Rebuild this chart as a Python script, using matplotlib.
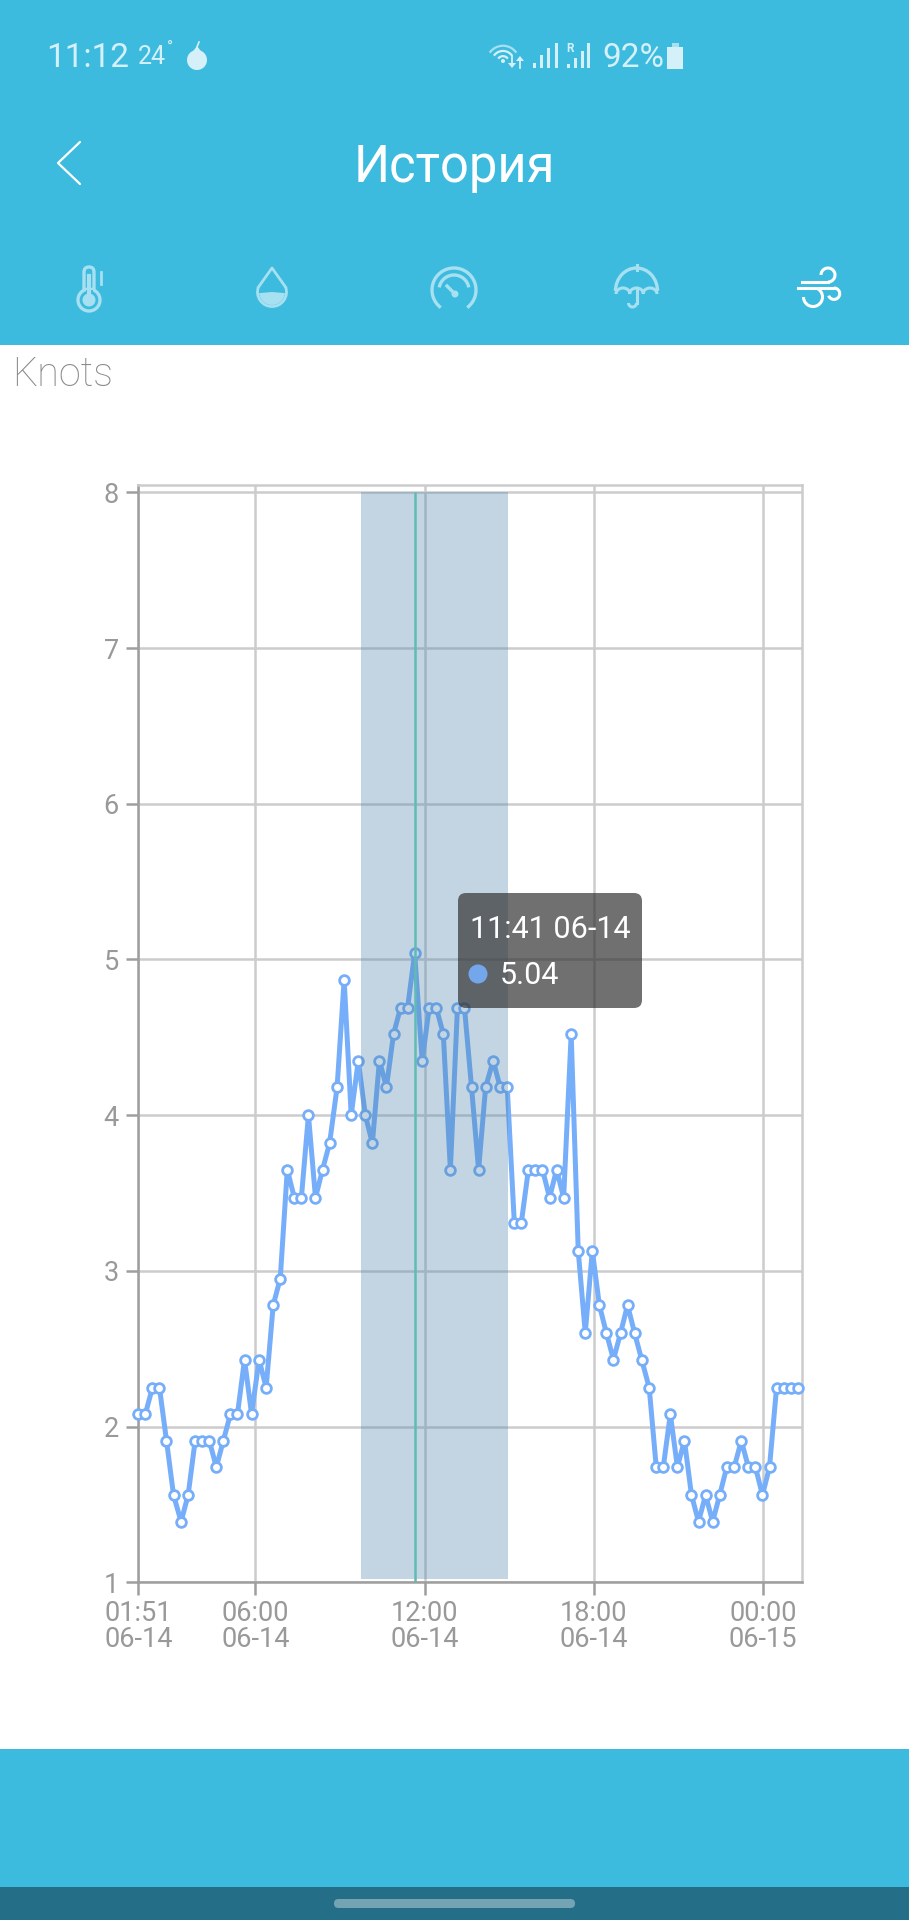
import matplotlib
matplotlib.use('Agg')
import matplotlib.pyplot as plt
from matplotlib.patches import Rectangle, FancyBboxPatch, Circle, Wedge, Polygon, Arc

W, H = 909, 1920

# sample times in minutes after midnight on 06-14
times = [111, 126, 141, 156, 171, 186, 202, 217, 232, 247, 262, 277, 292, 307, 322, 337,
         352, 368, 383, 398, 413, 428, 443, 458, 473, 488, 503, 518, 534, 549, 564, 579,
         594, 609, 624, 639, 654, 669, 684, 699, 715, 730, 745, 760, 775, 790, 805, 820,
         835, 850, 866, 881, 896, 911, 926, 941, 956, 971, 986, 1001, 1016, 1032, 1047, 1062,
         1077, 1092, 1107, 1122, 1137, 1152, 1167, 1182, 1198, 1213, 1228, 1243, 1258, 1273,
         1288, 1303, 1318, 1333, 1348, 1363, 1379, 1394, 1409, 1424, 1439, 1454, 1469, 1484,
         1499, 1514]
knots = [2.08, 2.08, 2.25, 2.25, 1.91, 1.56, 1.39, 1.56, 1.91, 1.91, 1.91, 1.74, 1.91, 2.08, 2.08, 2.43,
         2.08, 2.43, 2.25, 2.78, 2.95, 3.65, 3.47, 3.47, 4.00, 3.47, 3.65, 3.82, 4.18, 4.87, 4.00, 4.35,
         4.00, 3.82, 4.35, 4.18, 4.52, 4.69, 4.69, 5.04, 4.35, 4.69, 4.69, 4.52, 3.65, 4.69, 4.69, 4.18,
         3.65, 4.18, 4.35, 4.18, 4.18, 3.31, 3.31, 3.65, 3.65, 3.65, 3.47, 3.65, 3.47, 4.52, 3.13, 2.60,
         3.13, 2.78, 2.60, 2.43, 2.60, 2.78, 2.60, 2.43, 2.25, 1.74, 1.74, 2.08, 1.74, 1.91, 1.56, 1.39,
         1.56, 1.39, 1.56, 1.74, 1.74, 1.91, 1.74, 1.74, 1.56, 1.74, 2.25, 2.25, 2.25, 2.25]

x_ticks = [111, 360, 720, 1080, 1440]
x_labels = ['01:51\n06-14', '06:00\n06-14', '12:00\n06-14', '18:00\n06-14', '00:00\n06-15']
y_ticks = [1, 2, 3, 4, 5, 6, 7, 8]
x_start, x_end = 111, 1522.5
y_start, y_end = 1, 8.045
band_start, band_end = 584, 897
band_floor = 1.023
cursor_time = 699

HEADER = '#3DBBDF'
GRID = '#CCCCCC'
AXIS = '#9E9E9E'
LINE = '#76AEFA'
FONT = ['Roboto', 'DejaVu Sans']

plt.rcParams['font.family'] = FONT
fig = plt.figure(figsize=(W / 100, H / 100), dpi=100, facecolor='white')

# screen furniture is drawn in pixel coordinates
ui = fig.add_axes([0, 0, 1, 1], zorder=0)
ui.set_xlim(0, W)
ui.set_ylim(H, 0)
ui.axis('off')
ui.add_patch(Rectangle((0, 0), W, 345, color=HEADER, lw=0))
ui.add_patch(Rectangle((0, 1749), W, 138, color=HEADER, lw=0))
ui.add_patch(Rectangle((0, 1887), W, 33, color='#246F87', lw=0))
ui.add_patch(FancyBboxPatch((334, 1899), 241, 9, boxstyle='round,pad=0,rounding_size=4.5',
                            color='#74A4B4', lw=0))

# status bar
pale = '#D5F0F9'
ui.text(46, 58, '11:12', color=pale, fontsize=24, va='center', family=FONT)
ui.text(138, 57, '24', color=pale, fontsize=18, va='center', family=FONT)
ui.text(167, 47, '°', color=pale, fontsize=12, va='center', family=FONT)
ui.add_patch(Circle((197, 60), 10, color=pale, lw=0))
ui.add_patch(Polygon([[191, 54], [197, 46], [203, 54]], color=pale, lw=0))
ui.plot([197, 199], [47, 42], color=pale, lw=1.2)
ui.text(602, 58, '92%', color=pale, fontsize=24, va='center', family=FONT)
ui.add_patch(Rectangle((667, 47), 16, 22, color=pale, lw=0))
ui.add_patch(Rectangle((672, 43), 7, 4, color='#A6E0F1', lw=0))

# wifi arcs, arrows and signal bars
for r, col in [(9, pale), (17, pale), (25, '#A6E0F1')]:
    ui.add_patch(Arc((503, 62), r * 1.3, r * 1.3, theta1=215, theta2=325, color=col, lw=1.6))
ui.add_patch(Circle((503, 61), 2, color=pale, lw=0))
ui.plot([512, 512], [56, 66], color=pale, lw=1.3)
ui.plot([520, 520], [58, 68], color=pale, lw=1.3)
ui.add_patch(Polygon([[508, 63], [516, 63], [512, 68]], color=pale, lw=0))
ui.add_patch(Polygon([[516, 61], [524, 61], [520, 56]], color=pale, lw=0))
bar_x1 = [533, 540, 547, 555]
bar_h1 = [5, 13, 20, 25]
bar_x2 = [567, 574, 581, 587]
bar_h2 = [4, 10, 17, 25]
for x, h in zip(bar_x1, bar_h1):
    ui.add_patch(Rectangle((x, 68 - h), 2.8, h, color=pale, lw=0))
for x, h in zip(bar_x2, bar_h2):
    ui.add_patch(Rectangle((x, 68 - h), 2.8, h, color=pale, lw=0))
ui.text(570, 48, 'R', color=pale, fontsize=8.5, ha='center', va='center', family=FONT, fontweight='bold')

ui.plot([80, 58, 80], [142, 163, 184], color='white', lw=1.6, solid_capstyle='round')
ui.text(454, 168, 'История', color='white', fontsize=36.5, ha='center', va='center', family=FONT)

# tab icons
faint = '#A6E0F1'
# thermometer
ui.add_patch(FancyBboxPatch((84, 267), 10, 26, boxstyle='round,pad=0,rounding_size=5', fc='none', ec=faint, lw=2.4))
ui.add_patch(Circle((89, 300), 11, fc=HEADER, ec=faint, lw=2.4, zorder=3))
ui.add_patch(Rectangle((85.5, 290), 7, 8, color=HEADER, lw=0, zorder=3))
ui.add_patch(Circle((89, 300), 6.5, color=faint, lw=0, zorder=4))
ui.plot([89, 89], [276, 298], color=faint, lw=3, zorder=4)
ui.plot([101, 101], [272, 284], color=faint, lw=2)
# drop
ui.add_patch(Arc((272, 292), 29, 29, theta1=-20, theta2=200, color=faint, lw=2))
ui.plot([258.5, 272, 285.5], [287, 268, 287], color=faint, lw=2)
ui.add_patch(Wedge((272, 292), 13, 5, 175, color=faint, lw=0))
# gauge
ui.add_patch(Arc((454, 290), 44, 44, theta1=127, theta2=53, color=faint, lw=2.4))
ui.add_patch(Arc((454, 290), 30, 30, theta1=190, theta2=350, color=faint, lw=2.4))
ui.plot([447, 454], [286, 293], color=faint, lw=2.4)
ui.add_patch(Circle((455, 294), 3.5, color=faint, lw=0))
# umbrella
ui.add_patch(Arc((636.5, 291), 42, 46, theta1=180, theta2=360, color=faint, lw=2.4))
for cx in [623, 636.5, 650]:
    ui.add_patch(Arc((cx, 294), 14, 12, theta1=180, theta2=360, color=faint, lw=2.2))
ui.plot([636.5, 636.5], [265, 270], color=faint, lw=2.2)
ui.plot([636.5, 636.5], [290, 303], color=faint, lw=2.2)
ui.add_patch(Arc((632.5, 303), 8, 8, theta1=0, theta2=180, color=faint, lw=2.2))
# wind
ui.plot([802, 828], [282, 282], color='white', lw=2.2)
ui.add_patch(Arc((828, 275), 14, 14, theta1=180, theta2=90, color='white', lw=2.2))
ui.plot([798, 834], [288, 288], color='white', lw=2.2)
ui.add_patch(Arc((834, 293.7), 11.4, 11.4, theta1=270, theta2=160, color='white', lw=2.2))
ui.add_patch(Arc((813, 297), 19, 19, theta1=-60, theta2=180, color='white', lw=2.2))

ui.text(12, 375, 'Knots', color='#8A8A8A', fontsize=28.5, va='center', family=FONT, fontweight='ultralight')

# chart
left, right, bottom, top = 138.3, 801.7, 1582.3, 485.3
ax = fig.add_axes([left / W, 1 - bottom / H, (right - left) / W, (bottom - top) / H], zorder=1)
ax.patch.set_alpha(0)
ax.set_xlim(x_start, x_end)
ax.set_ylim(y_start, y_end)
ax.set_xticks(x_ticks)
ax.set_xticklabels(x_labels, fontsize=19.5, color='#999999', linespacing=0.95)
ax.set_yticks(y_ticks)
ax.set_yticklabels([str(v) for v in y_ticks], fontsize=19.5, color='#999999')
ax.grid(True, color=GRID, lw=1.8)
ax.set_axisbelow(True)
ax.tick_params(axis='x', length=9, width=1.8, color=AXIS, pad=4)
ax.tick_params(axis='y', length=9, width=1.8, color=AXIS, pad=5)
for s in ['top', 'right']:
    ax.spines[s].set_color(GRID)
    ax.spines[s].set_linewidth(1.8)
for s in ['left', 'bottom']:
    ax.spines[s].set_color(AXIS)
    ax.spines[s].set_linewidth(1.8)

# shaded band stops just above the x axis and at the top gridline
ax.fill_between([band_start, band_end], band_floor, 8, color='#4F86AC', alpha=0.34, lw=0, zorder=4)
ax.plot(times, knots, color=LINE, lw=3.6, marker='o', ms=7, mfc='white', mec=LINE, mew=2,
        zorder=3, clip_on=False)
ax.vlines(cursor_time, 1, 8, color='#5FBBB4', lw=1.8, zorder=5)

# tooltip
ui2 = fig.add_axes([0, 0, 1, 1], zorder=2)
ui2.set_xlim(0, W)
ui2.set_ylim(H, 0)
ui2.axis('off')
ui2.add_patch(FancyBboxPatch((458, 893), 184, 115, boxstyle='round,pad=0,rounding_size=8',
                             fc=(0.2, 0.2, 0.2), ec='none', alpha=0.7))
ui2.text(470, 929, '11:41 06-14', color='white', fontsize=22, va='center', family=FONT)
ui2.add_patch(Circle((478, 974), 9.5, color=LINE, lw=0, alpha=0.9))
ui2.text(500, 975, '5.04', color='white', fontsize=22, va='center', family=FONT)

fig.savefig('out.png', dpi=100)
